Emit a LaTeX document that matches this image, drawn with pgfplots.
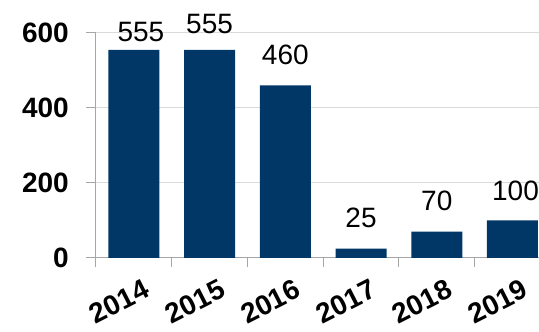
\documentclass[border=0pt]{standalone}
\usepackage{fontspec}
\setmainfont{Liberation Sans}
\usepackage{pgfplots}
\usepackage{pgfplotstable}
\pgfplotsset{compat=1.18}

\definecolor{barblue}{HTML}{013766}
\definecolor{gridgray}{HTML}{DADADA}
\definecolor{axisgray}{HTML}{A6A6A6}

% x, value, label shift right, label gap above bar (pt)
\pgfplotstableread{
x  y    dx  dy
0  555  7   7.5
1  555  0   15.5
2  460  0   21
3  25   0   21
4  70   0   21
5  100  3   20
}\datatable

\begin{document}
\begin{tikzpicture}
\useasboundingbox (-96pt,-74pt) rectangle (443pt,258pt);
\begin{axis}[
    at={(0,0)}, anchor=south west,
    scale only axis,
    width=443pt, height=225pt,
    xmin=-0.5, xmax=5.35,
    ymin=0, ymax=600,
    axis x line*=bottom, axis y line*=left,
    axis line style={axisgray, line width=1pt},
    ytick={0,200,400,600},
    ymajorgrids,
    grid style={gridgray, line width=1pt},
    xtick={0,1,2,3,4,5},
    xticklabels={2014,2015,2016,2017,2018,2019},
    minor xtick={-0.5,0.5,1.5,2.5,3.5,4.5},
    major x tick style={draw=none},
    tick style={axisgray, line width=1pt},
    tick align=outside,
    major tick length=10pt, minor tick length=9pt,
    /pgf/number format/assume math mode=true,
    ticklabel style={font=\fontsize{28}{28}\selectfont\bfseries},
    yticklabel style={inner sep=0pt, xshift=-17pt},
    xticklabel style={rotate=27, anchor=north east, inner sep=0pt,
        xshift=3pt, yshift=-13pt},
    clip=true,
]
\addplot[ybar, bar width=51pt, bar shift=0pt, fill=barblue, draw=none,
    nodes near coords,
    visualization depends on={\thisrow{dx} \as \labdx},
    visualization depends on={\thisrow{dy} \as \labdy},
    nodes near coords style={font=\fontsize{28}{28}\selectfont, text=black,
        anchor=south, inner sep=0pt, xshift=\labdx pt, yshift=\labdy pt},
    /pgf/number format/assume math mode=true,
] table[x=x, y=y] {\datatable};
\end{axis}
\end{tikzpicture}
\end{document}
